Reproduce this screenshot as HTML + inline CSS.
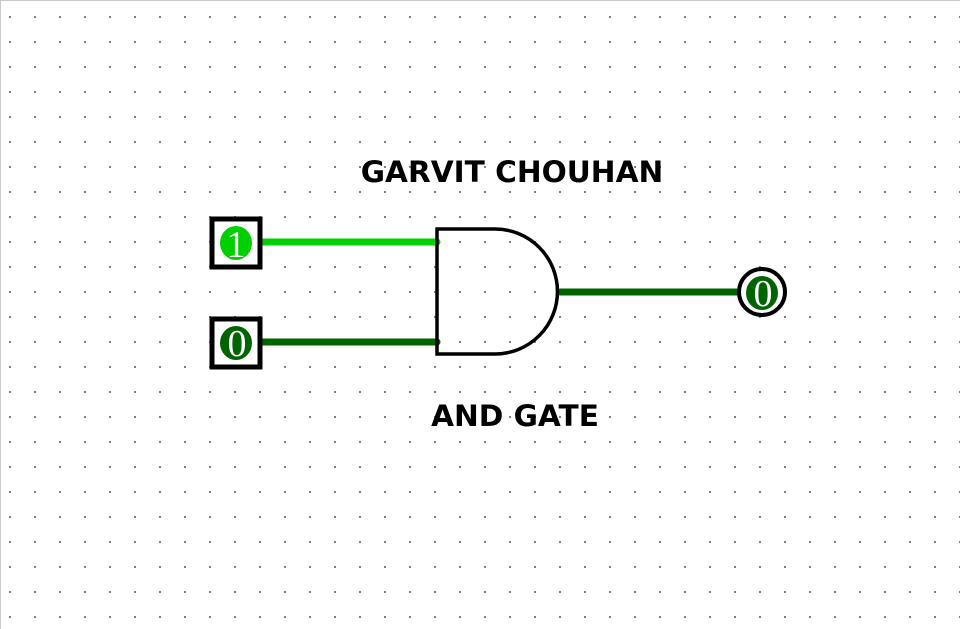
<!DOCTYPE html>
<html><head><style>
html,body{margin:0;padding:0;background:#fff;}
svg{display:block;}
</style></head><body>
<svg width="960" height="629" xmlns="http://www.w3.org/2000/svg">
<defs>
<pattern id="g" x="9" y="16" width="25" height="25" patternUnits="userSpaceOnUse">
<rect x="0" y="0" width="2" height="2" fill="#808080"/>
</pattern>
</defs>
<rect width="960" height="629" fill="#fff"/>
<rect width="960" height="629" fill="url(#g)"/>
<line x1="0" y1="0.5" x2="960" y2="0.5" stroke="#c8ccd0"/>
<line x1="0.5" y1="0" x2="0.5" y2="629" stroke="#c8ccd0"/>
<text x="512" y="182" text-anchor="middle" font-family="DejaVu Sans, sans-serif" font-weight="bold" font-size="29.6">GARVIT CHOUHAN</text>
<text x="515" y="426" text-anchor="middle" font-family="DejaVu Sans, sans-serif" font-weight="bold" font-size="29.6">AND GATE</text>
<line x1="260" y1="242" x2="437" y2="242" stroke="#00d000" stroke-width="7" stroke-linecap="round"/>
<line x1="260" y1="342" x2="437" y2="342" stroke="#006400" stroke-width="7" stroke-linecap="round"/>
<line x1="560" y1="292" x2="737" y2="292" stroke="#006400" stroke-width="7" stroke-linecap="round"/>
<rect x="212" y="219" width="48" height="48" fill="#fff" stroke="#000" stroke-width="5"/>
<ellipse cx="236" cy="243" rx="16" ry="17" fill="#00d000"/>
<text x="236" y="257" text-anchor="middle" font-family="Liberation Serif, serif" font-size="38" fill="#fff">1</text>
<rect x="212" y="319" width="48" height="48" fill="#fff" stroke="#000" stroke-width="5"/>
<ellipse cx="236" cy="343" rx="16" ry="17" fill="#006400"/>
<text x="237" y="356" text-anchor="middle" font-family="Liberation Serif, serif" font-size="38" fill="#fff">0</text>
<path d="M437,229 L495,229 A62,62 0 0 1 495,354 L437,354 Z" fill="none" stroke="#000" stroke-width="3.5"/>
<circle cx="762" cy="292" r="23" fill="#fff" stroke="#000" stroke-width="4"/>
<ellipse cx="762" cy="293" rx="16" ry="17" fill="#006400"/>
<text x="763" y="306" text-anchor="middle" font-family="Liberation Serif, serif" font-size="38" fill="#fff">0</text>
</svg>
</body></html>
